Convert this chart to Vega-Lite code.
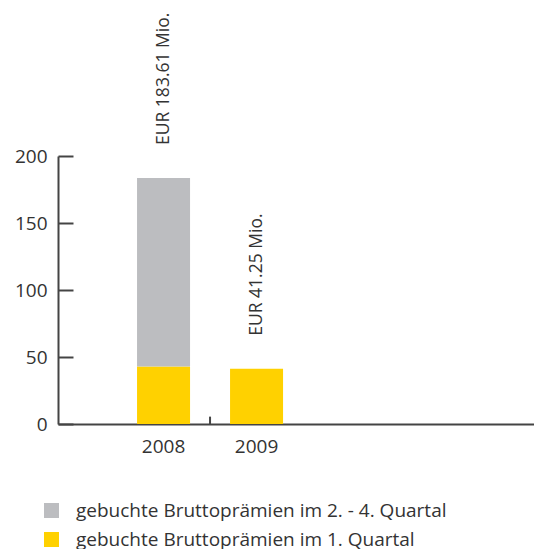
{
  "$schema": "https://vega.github.io/schema/vega-lite/v6.json",
  "width": 476,
  "height": 268,
  "autosize": {"type": "none"},
  "padding": {"left": 58, "top": 156, "right": 0, "bottom": 125},
  "config": {
    "view": {"stroke": null},
    "font": "Open Sans",
    "axis": {"domainColor": "#444444", "domainWidth": 2, "tickColor": "#444444", "tickWidth": 2, "labelColor": "#333333", "labelFontSize": 19, "grid": false, "title": null}
  },
  "datasets": {
    "bars": [
      {"year": "2008", "series": "gebuchte Bruttoprämien im 1. Quartal", "value": 43.0},
      {"year": "2008", "series": "gebuchte Bruttoprämien im 2. - 4. Quartal", "value": 140.61},
      {"year": "2009", "series": "gebuchte Bruttoprämien im 1. Quartal", "value": 41.25}
    ],
    "totals": [
      {"year": "2008", "total": 183.61, "label": "EUR 183.61 Mio."},
      {"year": "2009", "total": 41.25, "label": "EUR 41.25 Mio."}
    ]
  },
  "layer": [
    {
      "data": {"name": "bars"},
      "mark": {"type": "bar"},
      "encoding": {
        "x": {
          "field": "year", "type": "nominal",
          "scale": {"domain": ["2008", "2009", "2010", "2011"], "paddingInner": 0.43, "paddingOuter": 0.774, "align": 0.549},
          "axis": {"values": ["2008", "2009"], "ticks": false, "labelAngle": 0, "labelPadding": 13}
        },
        "y": {
          "field": "value", "type": "quantitative", "stack": "zero",
          "scale": {"domain": [0, 200], "nice": false},
          "axis": {"values": [0, 50, 100, 150, 200], "tickSize": -15, "labelPadding": 26}
        },
        "color": {
          "field": "series", "type": "nominal",
          "scale": {"domain": ["gebuchte Bruttoprämien im 2. - 4. Quartal", "gebuchte Bruttoprämien im 1. Quartal"], "range": ["#bcbdc0", "#ffd100"]},
          "legend": {"orient": "none", "legendX": -16, "legendY": 345, "title": null, "symbolType": "square", "symbolSize": 225, "symbolStrokeWidth": 0, "labelFontSize": 19, "labelColor": "#333333", "labelOffset": 15, "labelLimit": 600, "rowPadding": 9}
        },
        "order": {"field": "series", "sort": "ascending"}
      }
    },
    {
      "data": {"name": "totals"},
      "mark": {"type": "text", "angle": 270, "align": "left", "baseline": "middle", "dx": 33, "fontSize": 17.5, "color": "#333333"},
      "encoding": {
        "x": {"field": "year", "type": "nominal"},
        "y": {"field": "total", "type": "quantitative"},
        "text": {"field": "label"}
      }
    },
    {
      "data": {"values": [{"year": "2009"}]},
      "mark": {"type": "rule", "xOffset": -20, "color": "#444444", "strokeWidth": 2},
      "encoding": {
        "x": {"field": "year", "type": "nominal", "bandPosition": 0},
        "y": {"datum": 0},
        "y2": {"datum": 5.5}
      }
    }
  ]
}
